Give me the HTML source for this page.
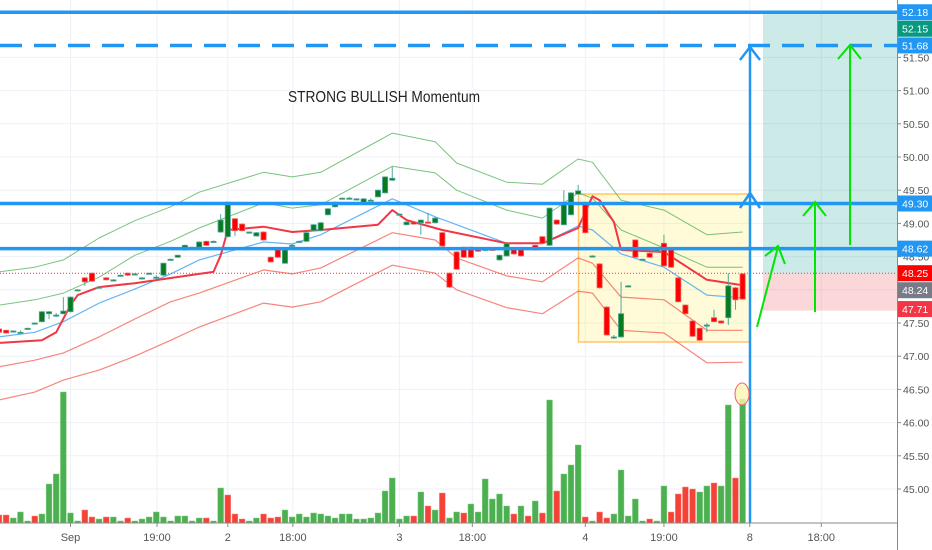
<!DOCTYPE html>
<html><head><meta charset="utf-8"><style>
html,body{margin:0;padding:0;background:#fff;}
svg{display:block;font-family:"Liberation Sans",sans-serif;}
</style></head><body>
<svg id="chart" width="932" height="550" viewBox="0 0 932 550" xmlns="http://www.w3.org/2000/svg">
<rect x="0" y="0" width="932" height="550" fill="#ffffff"/>
<g id="grid"></g>
<rect x="763" y="12" width="134" height="261.6" fill="rgba(0,150,136,0.2)"/>
<rect x="763" y="273.6" width="134" height="37" fill="rgba(242,54,69,0.2)"/>
<rect x="578.5" y="194" width="171.5" height="148" fill="rgba(255,235,59,0.2)" stroke="rgba(255,152,0,0.55)" stroke-width="1.5"/>
<g id="bands"></g>
<g id="candles"></g>
<g id="volume"></g>
<g id="levels"></g>
<text x="288" y="102" font-size="16" fill="#222" textLength="192" lengthAdjust="spacingAndGlyphs">STRONG BULLISH Momentum</text>
<g stroke="#2196f3" stroke-width="2.5" fill="none">
<line x1="750" y1="47" x2="750" y2="523"/>
<polyline points="740,60 750,47 760,60"/>
<polyline points="740,208 750,193 760,208"/>
</g>
<g stroke="#00e600" stroke-width="2" fill="none">
<line x1="757" y1="327" x2="778" y2="247"/><polyline points="765,256 778,246 785,264"/>
<line x1="815" y1="312" x2="815" y2="203"/><polyline points="803,216 815,202 826,216"/>
<line x1="850" y1="245" x2="850" y2="46"/><polyline points="838,59 850,45 861,59"/>
</g>
<ellipse cx="742" cy="394" rx="7" ry="11" fill="rgba(255,245,180,0.8)" stroke="#f06060" stroke-width="1"/>
<g id="axes"></g>
</svg>
<script>
const NS="http://www.w3.org/2000/svg";
// ---- data ----
const candleOpen=[47.41,47.39,47.38,47.36,47.42,47.50,47.52,47.64,47.62,47.64,47.67,48.00,48.18,48.25,48.04,48.18,48.15,48.22,48.25,48.24,48.18,48.25,48.19,48.22,48.46,48.49,48.60,48.64,48.64,48.73,48.73,48.87,48.80,49.07,48.99,48.87,48.81,48.87,48.49,48.61,48.40,48.67,48.73,48.73,48.89,48.89,49.13,49.25,49.38,49.38,49.37,49.31,49.35,49.40,49.46,49.65,49.14,48.98,49.02,49.01,49.02,49.01,48.86,48.25,48.57,48.64,48.64,48.61,48.61,48.61,48.45,48.51,48.63,48.61,48.63,48.67,48.80,48.67,49.05,48.98,49.13,49.44,49.31,48.51,48.39,47.74,47.29,47.29,48.06,48.75,48.46,48.55,48.60,48.70,48.63,48.18,47.77,47.53,47.42,47.47,47.58,47.53,47.58,48.03,48.24];
const candleClose=[47.36,47.35,47.38,47.36,47.42,47.50,47.67,47.67,47.62,47.68,47.89,48.00,48.12,48.13,48.04,48.15,48.15,48.22,48.22,48.24,48.18,48.25,48.19,48.40,48.46,48.52,48.67,48.64,48.72,48.67,48.73,49.05,49.32,48.89,48.89,48.87,48.86,48.75,48.42,48.49,48.60,48.67,48.73,48.86,48.98,49.01,49.22,49.32,49.38,49.38,49.37,49.37,49.35,49.50,49.70,49.68,49.14,49.02,48.99,49.05,49.01,49.08,48.66,48.04,48.31,48.49,48.49,48.58,48.61,48.60,48.52,48.70,48.54,48.51,48.63,48.60,48.70,49.23,48.99,49.28,49.46,49.49,48.86,48.51,48.03,47.32,47.29,47.64,48.06,48.49,48.46,48.49,48.60,48.36,48.34,47.82,47.64,47.30,47.24,47.47,47.52,47.50,48.06,47.85,47.86];
const candleHigh=[47.42,47.40,47.39,47.39,47.43,47.51,47.68,47.68,47.65,47.89,47.90,48.01,48.19,48.26,48.05,48.19,48.16,48.23,48.26,48.25,48.19,48.26,48.22,48.41,48.47,48.53,48.68,48.65,48.73,48.74,48.74,49.14,49.33,49.08,49.00,48.88,48.87,48.88,48.50,48.62,48.61,48.70,48.74,48.87,48.99,49.02,49.23,49.33,49.39,49.40,49.38,49.38,49.38,49.51,49.71,49.85,49.15,49.03,49.03,49.06,49.16,49.09,48.87,48.26,48.58,48.65,48.65,48.62,48.64,48.62,48.53,48.71,48.64,48.62,48.64,48.68,48.81,49.24,49.06,49.50,49.47,49.58,49.32,48.52,48.40,47.75,47.32,48.12,48.07,48.76,48.47,48.56,48.61,48.83,48.64,48.19,47.78,47.54,47.43,47.50,47.70,47.54,48.25,48.04,48.25];
const candleLow=[47.35,47.34,47.37,47.33,47.41,47.49,47.51,47.56,47.59,47.63,47.66,47.99,48.06,48.12,48.03,48.14,48.14,48.21,48.21,48.23,48.17,48.24,48.16,48.21,48.45,48.48,48.59,48.63,48.63,48.66,48.72,48.86,48.79,48.81,48.88,48.86,48.80,48.74,48.41,48.48,48.39,48.64,48.72,48.72,48.88,48.88,49.12,49.24,49.37,49.36,49.36,49.30,49.33,49.39,49.45,49.64,49.13,48.97,48.98,48.83,49.00,49.00,48.65,48.03,48.30,48.48,48.48,48.57,48.58,48.59,48.44,48.50,48.53,48.50,48.62,48.59,48.69,48.66,48.98,48.97,49.12,49.43,48.85,48.50,48.02,47.31,47.26,47.28,48.05,48.48,48.45,48.48,48.59,48.35,48.33,47.81,47.63,47.29,47.23,47.36,47.51,47.49,47.47,47.70,47.85];
const volumes=[8,8,5,11,2,7,9,39,49,131,10,2,13,6,4,6,6,2,5,2,4,6,11,6,2,7,7,2,5,5,2,35,28,9,4,2,5,9,5,6,13,6,9,6,10,9,7,5,9,9,4,4,5,10,32,45,4,7,7,31,17,13,30,5,11,10,19,11,44,24,29,17,9,17,7,22,10,123,32,49,58,78,6,2,11,5,9,53,7,24,2,4,2,37,11,29,36,34,31,37,40,37,118,45,124];
const volumeUp=[0,0,1,1,1,0,1,1,1,1,1,1,0,0,1,0,1,1,0,1,1,1,1,1,1,1,1,1,1,0,1,1,0,0,0,1,1,0,0,0,1,1,1,1,1,1,1,1,1,1,1,1,1,1,1,1,1,1,0,1,0,1,0,1,1,0,1,1,1,1,1,1,0,1,0,1,0,1,0,1,1,1,0,1,0,0,1,1,1,1,1,0,1,1,0,0,0,0,1,1,0,1,1,0,1];
const bandIdx=[0,5,9,14,19,24,28,37,41,45,55,61,64,71,76,81,83,87,93,99,104];
const upper2=[48.27,48.34,48.45,48.78,49.04,49.25,49.47,49.77,49.70,49.77,50.36,50.23,49.91,49.62,49.59,49.97,49.92,49.35,49.20,48.83,48.87];
const upper1=[47.77,47.85,47.95,48.19,48.52,48.73,48.93,49.31,49.23,49.28,49.86,49.76,49.50,49.20,49.08,49.46,49.38,48.90,48.63,48.34,48.34];
const basis=[47.29,47.36,47.52,47.80,48.01,48.24,48.45,48.72,48.69,48.83,49.37,49.10,48.98,48.70,48.70,48.96,48.90,48.54,48.34,47.92,47.88];
const lower1=[46.84,46.94,47.05,47.29,47.56,47.82,47.95,48.30,48.24,48.33,48.86,48.75,48.48,48.21,48.12,48.48,48.40,47.89,47.85,47.39,47.39];
const lower2=[46.34,46.46,46.64,46.79,47.00,47.24,47.44,47.80,47.74,47.82,48.37,48.25,48.00,47.73,47.64,47.98,47.95,47.39,47.35,46.90,46.91];
const trendIdx=[0,6,8,10,11,14,19,28,30,31,32,37,41,45,53,55,57,62,71,76,81,83,84,86,87,93,99,104];
const trendLine=[47.20,47.24,47.36,47.77,47.92,48.04,48.10,48.24,48.27,48.52,48.90,48.95,48.87,48.90,48.98,49.20,49.05,48.90,48.70,48.70,48.93,49.41,49.35,49.02,48.60,48.57,48.15,48.07];
const priceTicks=[51.50,51.00,50.50,50.00,49.50,49.00,48.50,48.00,47.50,47.00,46.50,46.00,45.50,45.00];
const timeLabels=["Sep","19:00","2","18:00","3","18:00","4","19:00","8","18:00"];
const timeIdx=[10,22.1,32,41.1,56,66.2,82,93,105,115];
const levelPrices=[52.18,51.68,49.30,48.62];
const levelDashed=[0,1,0,0];
const badgeValues=[52.18,52.15,51.68,49.30,48.62,48.25,48.24,47.71];
const badgeColors=["#2196f3","#089981","#2196f3","#2196f3","#2196f3","#ff0000","#787b86","#f23645"];
const lastPrice=48.25;
// ---- scales ----
function xOf(i){return -1+7.15*i;}
function yOf(p){return 157+(50-p)*66.4;}
const volBase=523;
function vh(v){return v*1.0;}
function mk(tag,attrs,parent){const e=document.createElementNS(NS,tag);for(const k in attrs)e.setAttribute(k,attrs[k]);parent.appendChild(e);return e;}
const grid=document.getElementById('grid');
priceTicks.forEach(p=>{const l=mk('line',{x1:0,x2:897,y1:yOf(p),y2:yOf(p),stroke:'#eef1f6','stroke-width':1},grid);

});
timeIdx.forEach(i=>{const l=mk('line',{x1:xOf(i),x2:xOf(i),y1:0,y2:523,stroke:'#eef1f6','stroke-width':1},grid);

});
// bands
const bands=document.getElementById('bands');
function drawLine(idx,vals,color,w,name){const pts=idx.map((i,k)=>xOf(i).toFixed(1)+','+yOf(vals[k]).toFixed(1)).join(' ');
const pl=mk('polyline',{points:pts,fill:'none',stroke:color,'stroke-width':w,'stroke-linejoin':'round'},bands);

}
drawLine(bandIdx,upper2,'rgba(76,175,80,0.75)',1,'upper-band-2');
drawLine(bandIdx,upper1,'rgba(76,175,80,0.75)',1,'upper-band-1');
drawLine(bandIdx,basis,'#64b5f6',1.2,'basis-line');
drawLine(bandIdx,lower1,'rgba(244,67,54,0.65)',1.2,'lower-band-1');
drawLine(bandIdx,lower2,'rgba(244,67,54,0.65)',1.2,'lower-band-2');
drawLine(trendIdx,trendLine,'#f23645',2,'trend-line');
// price line
const pline=mk('line',{x1:0,x2:897,y1:yOf(lastPrice),y2:yOf(lastPrice),stroke:'#f23645','stroke-width':1,'stroke-dasharray':'1,2'},bands);


// candles
const cg=document.getElementById('candles');
for(let i=0;i<candleOpen.length;i++){
 const o=candleOpen[i],c=candleClose[i],h=candleHigh[i],l=candleLow[i],x=xOf(i);
 const up=c>=o;
 const g=mk('g',{},cg);
 
 
 mk('line',{x1:x,x2:x,y1:yOf(h),y2:yOf(l),stroke:'#4fa89c','stroke-width':1},g);
 const top=yOf(Math.max(o,c)),bot=yOf(Math.min(o,c));
 mk('rect',{x:x-2.6,y:top,width:5.2,height:Math.max(1.2,bot-top),fill:up?'#0a7a1e':'#ff0000',stroke:up?'#4fa89c':'#f06060','stroke-width':0.8},g);
}
// volume
const vg=document.getElementById('volume');
for(let i=0;i<volumes.length;i++){
 const x=xOf(i),h=vh(volumes[i]);
 const r=mk('rect',{x:x-2.9,y:volBase-h,width:5.8,height:h,fill:volumeUp[i]?'#4caf50':'#f44336',stroke:volumeUp[i]?'#7fcf82':'#f88',"stroke-width":0.5},vg);
 
 
}
// levels
const lg=document.getElementById('levels');
levelPrices.forEach((p,k)=>{const a={x1:0,x2:897,y1:yOf(p),y2:yOf(p),stroke:'#2196f3','stroke-width':3.5};
 if(levelDashed[k])a['stroke-dasharray']='22,12';
 const l=mk('line',a,lg);
 
 });
// axes
const ag=document.getElementById('axes');
mk('rect',{x:897.5,y:0,width:35,height:550,fill:'#fff'},ag);
mk('line',{x1:897.5,x2:897.5,y1:0,y2:550,stroke:'#888','stroke-width':1},ag);
mk('line',{x1:0,x2:897.5,y1:523,y2:523,stroke:'#888','stroke-width':1},ag);
priceTicks.forEach(p=>{const y=yOf(p);mk('line',{x1:897.5,x2:901,y1:y,y2:y,stroke:'#888'},ag);
 const t=mk('text',{x:903,y:y+4,'font-size':10.5,fill:'#555'},ag);t.textContent=p.toFixed(2);
 
 });
timeLabels.forEach((s,k)=>{const x=xOf(timeIdx[k]);mk('line',{x1:x,x2:x,y1:523,y2:527,stroke:'#888'},ag);
 const t=mk('text',{x:x,y:541,'font-size':11,fill:'#555','text-anchor':'middle'},ag);t.textContent=s;
 
 });
badgeValues.forEach((p,k)=>{let y=yOf(p);
 if(k===1)y=yOf(badgeValues[0])+16.5;
 if(k===6)y=yOf(badgeValues[5])+17;
 const g=mk('g',{},ag);
 
 
 mk('rect',{x:898,y:y-8,width:34,height:16,fill:badgeColors[k]},g);
 const t=mk('text',{x:902,y:y+4,'font-size':10.5,fill:'#fff'},g);t.textContent=p.toFixed(2);});
</script>
</body></html>
